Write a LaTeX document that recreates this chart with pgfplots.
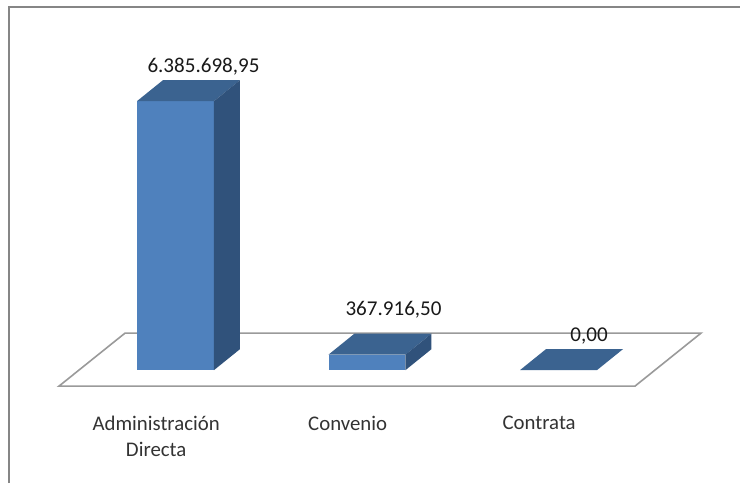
\documentclass[border=0pt]{standalone}
\usepackage{fontspec}
\setmainfont{Carlito}
\usepackage{pgfplots}
\pgfplotsset{compat=1.18}
\definecolor{barfront}{HTML}{4F81BD}
\definecolor{bartop}{HTML}{3B6390}
\definecolor{barside}{HTML}{30527B}
\definecolor{framegray}{HTML}{868686}
\definecolor{floorgray}{HTML}{9A9A9A}
\definecolor{labeltext}{HTML}{333333}

\begin{document}
\begin{tikzpicture}
\begin{axis}[
  scale only axis,
  width=555pt,
  height=362.25pt,
  xmin=-0.91645, xmax=2.94778,
  ymin=-2682507, ymax=8783430,
  axis line style={draw=none},
  major tick length=0pt,
  ytick=\empty,
  xtick={0,1,2},
  xticklabels={{Administración\\Directa},{Convenio},{Contrata}},
  xticklabel style={
    font=\fontsize{15.6}{20}\selectfont,
    text=labeltext,
    align=center,
    anchor=north,
    xshift=-14.5pt,
    yshift=54pt,
  },
  nodes near coords style={font=\fontsize{15.8}{18}\selectfont, text=black!90},
]
% chart frame, open at the right and bottom edges
\addplot[framegray, line width=1.6pt] coordinates {(-0.8706,-2682507) (-0.8706,8617257) (2.94778,8617257)};

% floor
\addplot[floorgray, line width=1.2pt, fill=white] coordinates {(-0.6084,-379824) (2.3995,-379824) (2.7441,878343) (-0.2637,878343)} -- cycle;

% Administracion Directa
\addplot[draw=none, fill=barfront] coordinates {(-0.201,0) (0.201,0) (0.201,6385698.95) (-0.201,6385698.95)} -- cycle;
\addplot[draw=none, fill=bartop] coordinates {(-0.201,6385698.95) (0.201,6385698.95) (0.3368,6884218) (-0.0653,6884218)} -- cycle;
\addplot[draw=none, fill=barside] coordinates {(0.201,0) (0.3368,498519) (0.3368,6884218) (0.201,6385698.95)} -- cycle;

% Convenio
\addplot[draw=none, fill=barfront] coordinates {(0.799,0) (1.201,0) (1.201,367916.5) (0.799,367916.5)} -- cycle;
\addplot[draw=none, fill=bartop] coordinates {(0.799,367916.5) (1.201,367916.5) (1.3368,866436) (0.9347,866436)} -- cycle;
\addplot[draw=none, fill=barside] coordinates {(1.201,0) (1.3368,498519) (1.3368,866436) (1.201,367916.5)} -- cycle;

% Contrata
\addplot[draw=none, fill=bartop] coordinates {(1.799,0) (2.201,0) (2.3368,498519) (1.9347,498519)} -- cycle;

% value labels
\addplot[draw=none, point meta=explicit symbolic, nodes near coords,
  nodes near coords style={anchor=center, xshift=21pt, yshift=26pt}]
  coordinates {(0,6385698.95) [6.385.698,95]};
\addplot[draw=none, point meta=explicit symbolic, nodes near coords,
  nodes near coords style={anchor=center, xshift=19.9pt, yshift=33.5pt}]
  coordinates {(1,367916.5) [367.916,50]};
\addplot[draw=none, point meta=explicit symbolic, nodes near coords,
  nodes near coords style={anchor=center, xshift=22.9pt, yshift=25.8pt}]
  coordinates {(2,0) [0,00]};
\end{axis}
\end{tikzpicture}
\end{document}
